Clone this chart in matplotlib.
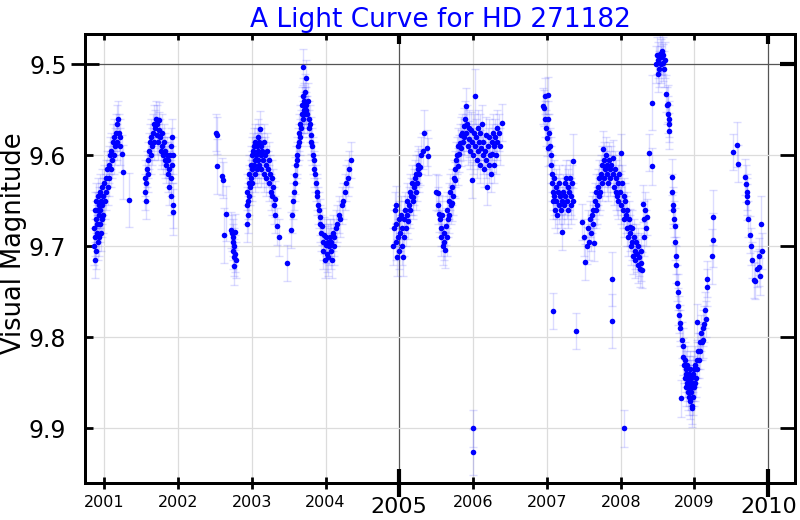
import matplotlib
matplotlib.use("Agg")
import matplotlib.pyplot as plt
from matplotlib.ticker import FixedLocator, FixedFormatter, NullFormatter

# (decimal year, visual magnitude, error) per observing season
season_2001 = [
    (2000.86, 9.700, 0.02), (2000.865, 9.680, 0.02), (2000.87, 9.660, 0.02), (2000.875, 9.715, 0.02),
    (2000.88, 9.690, 0.02), (2000.885, 9.670, 0.02), (2000.89, 9.650, 0.02), (2000.895, 9.705, 0.02),
    (2000.90, 9.685, 0.02), (2000.905, 9.660, 0.02), (2000.91, 9.675, 0.02), (2000.915, 9.695, 0.02),
    (2000.92, 9.645, 0.02), (2000.925, 9.665, 0.02), (2000.93, 9.690, 0.02), (2000.935, 9.655, 0.02),
    (2000.94, 9.675, 0.02), (2000.945, 9.640, 0.02), (2000.95, 9.660, 0.02), (2000.955, 9.685, 0.02),
    (2000.96, 9.650, 0.02), (2000.965, 9.670, 0.02), (2000.97, 9.635, 0.02), (2000.975, 9.655, 0.02),
    (2000.98, 9.645, 0.02), (2000.99, 9.665, 0.02), (2001.00, 9.630, 0.02), (2001.01, 9.650, 0.02),
    (2001.02, 9.625, 0.02), (2001.03, 9.640, 0.02), (2001.04, 9.615, 0.02), (2001.05, 9.635, 0.02),
    (2001.06, 9.610, 0.02), (2001.07, 9.625, 0.02), (2001.08, 9.600, 0.02), (2001.09, 9.615, 0.02),
    (2001.10, 9.595, 0.02), (2001.11, 9.605, 0.02), (2001.12, 9.585, 0.02), (2001.13, 9.600, 0.02),
    (2001.14, 9.580, 0.02), (2001.15, 9.590, 0.02), (2001.16, 9.575, 0.02), (2001.17, 9.585, 0.02),
    (2001.18, 9.565, 0.02), (2001.19, 9.560, 0.02), (2001.20, 9.575, 0.02), (2001.21, 9.590, 0.02),
    (2001.22, 9.580, 0.02), (2001.24, 9.598, 0.02), (2001.26, 9.618, 0.03), (2001.34, 9.649, 0.03),
]
season_2002 = [
    (2001.55, 9.640, 0.02), (2001.56, 9.625, 0.02), (2001.565, 9.650, 0.02), (2001.57, 9.630, 0.02),
    (2001.58, 9.615, 0.02), (2001.59, 9.605, 0.02), (2001.60, 9.620, 0.02), (2001.61, 9.595, 0.02),
    (2001.62, 9.585, 0.02), (2001.63, 9.600, 0.02), (2001.64, 9.580, 0.02), (2001.65, 9.590, 0.02),
    (2001.66, 9.575, 0.02), (2001.67, 9.565, 0.02), (2001.68, 9.585, 0.02), (2001.69, 9.570, 0.02),
    (2001.70, 9.560, 0.02), (2001.71, 9.578, 0.02), (2001.72, 9.565, 0.02), (2001.73, 9.585, 0.02),
    (2001.74, 9.572, 0.02), (2001.75, 9.561, 0.02), (2001.76, 9.580, 0.02), (2001.77, 9.595, 0.02),
    (2001.78, 9.575, 0.02), (2001.79, 9.590, 0.02), (2001.80, 9.600, 0.02), (2001.81, 9.585, 0.02),
    (2001.82, 9.605, 0.02), (2001.83, 9.595, 0.02), (2001.84, 9.610, 0.02), (2001.85, 9.600, 0.02),
    (2001.86, 9.620, 0.02), (2001.87, 9.605, 0.02), (2001.88, 9.615, 0.02), (2001.885, 9.635, 0.02),
    (2001.89, 9.600, 0.02), (2001.90, 9.625, 0.02), (2001.905, 9.645, 0.02), (2001.91, 9.590, 0.02),
    (2001.92, 9.610, 0.02), (2001.925, 9.580, 0.02), (2001.93, 9.655, 0.025), (2001.935, 9.662, 0.025),
    (2001.94, 9.600, 0.02),
]
season_2003 = [
    (2002.52, 9.575, 0.02), (2002.525, 9.578, 0.02), (2002.53, 9.612, 0.03), (2002.60, 9.623, 0.02),
    (2002.605, 9.627, 0.02), (2002.62, 9.688, 0.03), (2002.65, 9.664, 0.03), (2002.72, 9.682, 0.02),
    (2002.73, 9.685, 0.02), (2002.74, 9.695, 0.02), (2002.745, 9.705, 0.02), (2002.75, 9.690, 0.02),
    (2002.755, 9.712, 0.02), (2002.76, 9.700, 0.02), (2002.765, 9.722, 0.02), (2002.77, 9.708, 0.02),
    (2002.78, 9.684, 0.02), (2002.785, 9.715, 0.02),
    (2002.93, 9.655, 0.02), (2002.935, 9.675, 0.02), (2002.94, 9.640, 0.02), (2002.945, 9.665, 0.02),
    (2002.95, 9.650, 0.02), (2002.96, 9.630, 0.02), (2002.965, 9.645, 0.02), (2002.97, 9.620, 0.02),
    (2002.98, 9.635, 0.02), (2002.985, 9.610, 0.02), (2002.99, 9.625, 0.02), (2003.00, 9.600, 0.02),
    (2003.005, 9.615, 0.02), (2003.01, 9.630, 0.02), (2003.02, 9.595, 0.02), (2003.025, 9.610, 0.02),
    (2003.03, 9.590, 0.02), (2003.04, 9.605, 0.02), (2003.045, 9.620, 0.02), (2003.05, 9.585, 0.02),
    (2003.06, 9.600, 0.02), (2003.065, 9.615, 0.02), (2003.07, 9.590, 0.02), (2003.08, 9.605, 0.02),
    (2003.085, 9.580, 0.02), (2003.09, 9.595, 0.02), (2003.10, 9.610, 0.02), (2003.105, 9.585, 0.02),
    (2003.11, 9.571, 0.02), (2003.12, 9.600, 0.02), (2003.125, 9.590, 0.02), (2003.13, 9.615, 0.02),
    (2003.14, 9.595, 0.02), (2003.15, 9.605, 0.02), (2003.16, 9.585, 0.02), (2003.17, 9.620, 0.02),
    (2003.18, 9.600, 0.02), (2003.19, 9.610, 0.02), (2003.20, 9.625, 0.02), (2003.21, 9.595, 0.02),
    (2003.22, 9.615, 0.02), (2003.23, 9.630, 0.02), (2003.24, 9.605, 0.02), (2003.25, 9.620, 0.02),
    (2003.26, 9.640, 0.02), (2003.27, 9.625, 0.02), (2003.28, 9.645, 0.02), (2003.29, 9.635, 0.02),
    (2003.30, 9.655, 0.02), (2003.31, 9.648, 0.02), (2003.32, 9.665, 0.02), (2003.34, 9.678, 0.02),
    (2003.37, 9.690, 0.02),
]
season_2004 = [
    (2003.48, 9.718, 0.02), (2003.53, 9.682, 0.02), (2003.54, 9.665, 0.02), (2003.56, 9.650, 0.02),
    (2003.57, 9.640, 0.02), (2003.58, 9.630, 0.02), (2003.59, 9.622, 0.02), (2003.60, 9.610, 0.02),
    (2003.61, 9.600, 0.02), (2003.62, 9.605, 0.02), (2003.63, 9.590, 0.02), (2003.64, 9.585, 0.02),
    (2003.645, 9.575, 0.02), (2003.65, 9.580, 0.02), (2003.66, 9.565, 0.02), (2003.67, 9.570, 0.02),
    (2003.675, 9.555, 0.02), (2003.68, 9.545, 0.02), (2003.69, 9.503, 0.02), (2003.695, 9.560, 0.02),
    (2003.70, 9.535, 0.02), (2003.705, 9.550, 0.02), (2003.71, 9.540, 0.02), (2003.715, 9.555, 0.02),
    (2003.72, 9.545, 0.02), (2003.725, 9.530, 0.02), (2003.73, 9.550, 0.02), (2003.735, 9.515, 0.02),
    (2003.74, 9.545, 0.02), (2003.75, 9.555, 0.02), (2003.76, 9.540, 0.02), (2003.77, 9.560, 0.02),
    (2003.78, 9.570, 0.02), (2003.79, 9.565, 0.02), (2003.80, 9.578, 0.02), (2003.81, 9.585, 0.02),
    (2003.82, 9.590, 0.02), (2003.83, 9.600, 0.02), (2003.84, 9.605, 0.02), (2003.85, 9.615, 0.02),
    (2003.86, 9.620, 0.02), (2003.87, 9.630, 0.02), (2003.88, 9.640, 0.02), (2003.89, 9.645, 0.02),
    (2003.90, 9.655, 0.02), (2003.91, 9.660, 0.02), (2003.92, 9.668, 0.02), (2003.93, 9.675, 0.02),
    (2003.94, 9.685, 0.02), (2003.95, 9.678, 0.02), (2003.96, 9.695, 0.02), (2003.97, 9.705, 0.02),
    (2003.98, 9.688, 0.02), (2003.99, 9.715, 0.02), (2004.00, 9.698, 0.02), (2004.01, 9.690, 0.02),
    (2004.02, 9.708, 0.02), (2004.03, 9.695, 0.02), (2004.04, 9.712, 0.02), (2004.05, 9.700, 0.02),
    (2004.06, 9.690, 0.02), (2004.07, 9.705, 0.02), (2004.08, 9.695, 0.02), (2004.09, 9.715, 0.02),
    (2004.10, 9.685, 0.02), (2004.11, 9.700, 0.02), (2004.12, 9.690, 0.02), (2004.14, 9.680, 0.02),
    (2004.16, 9.675, 0.02), (2004.18, 9.665, 0.02), (2004.20, 9.670, 0.02), (2004.22, 9.655, 0.02),
    (2004.24, 9.650, 0.02), (2004.26, 9.640, 0.02), (2004.28, 9.630, 0.02), (2004.30, 9.625, 0.02),
    (2004.32, 9.615, 0.02), (2004.34, 9.605, 0.02),
]
season_2005 = [
    (2004.92, 9.700, 0.02), (2004.93, 9.680, 0.02), (2004.94, 9.660, 0.02), (2004.95, 9.654, 0.02),
    (2004.955, 9.695, 0.02), (2004.96, 9.675, 0.02), (2004.97, 9.712, 0.02), (2004.98, 9.690, 0.02),
    (2004.99, 9.670, 0.02), (2005.00, 9.705, 0.02), (2005.01, 9.685, 0.02), (2005.02, 9.665, 0.02),
    (2005.03, 9.700, 0.02), (2005.04, 9.680, 0.02), (2005.05, 9.712, 0.02), (2005.06, 9.690, 0.02),
    (2005.07, 9.670, 0.02), (2005.08, 9.660, 0.02), (2005.09, 9.680, 0.02), (2005.10, 9.665, 0.02),
    (2005.11, 9.650, 0.02), (2005.12, 9.672, 0.02), (2005.13, 9.655, 0.02), (2005.14, 9.640, 0.02),
    (2005.15, 9.660, 0.02), (2005.16, 9.645, 0.02), (2005.17, 9.630, 0.02), (2005.18, 9.650, 0.02),
    (2005.19, 9.646, 0.02), (2005.20, 9.635, 0.02), (2005.21, 9.625, 0.02), (2005.22, 9.640, 0.02),
    (2005.23, 9.620, 0.02), (2005.24, 9.630, 0.02), (2005.25, 9.615, 0.02), (2005.26, 9.610, 0.02),
    (2005.27, 9.620, 0.02), (2005.28, 9.613, 0.02), (2005.30, 9.600, 0.02), (2005.32, 9.595, 0.02),
    (2005.34, 9.575, 0.025), (2005.37, 9.592, 0.02), (2005.39, 9.601, 0.02),
]
season_2006 = [
    (2005.50, 9.640, 0.02), (2005.52, 9.655, 0.02), (2005.53, 9.641, 0.02), (2005.54, 9.664, 0.02),
    (2005.55, 9.670, 0.02), (2005.56, 9.680, 0.02), (2005.57, 9.690, 0.02), (2005.58, 9.665, 0.02),
    (2005.59, 9.700, 0.02), (2005.60, 9.685, 0.02), (2005.61, 9.695, 0.02), (2005.62, 9.704, 0.02),
    (2005.63, 9.678, 0.02), (2005.64, 9.660, 0.02), (2005.65, 9.690, 0.02), (2005.66, 9.670, 0.02),
    (2005.67, 9.650, 0.02), (2005.68, 9.665, 0.02), (2005.69, 9.640, 0.02), (2005.70, 9.655, 0.02),
    (2005.71, 9.652, 0.02), (2005.72, 9.635, 0.02), (2005.73, 9.645, 0.02), (2005.74, 9.625, 0.02),
    (2005.75, 9.615, 0.02), (2005.76, 9.627, 0.02), (2005.77, 9.605, 0.02), (2005.78, 9.600, 0.02),
    (2005.79, 9.612, 0.02), (2005.80, 9.590, 0.02), (2005.81, 9.598, 0.02), (2005.82, 9.586, 0.02),
    (2005.83, 9.578, 0.02), (2005.84, 9.592, 0.02), (2005.85, 9.575, 0.02), (2005.86, 9.585, 0.02),
    (2005.87, 9.568, 0.02), (2005.88, 9.580, 0.02), (2005.89, 9.560, 0.02), (2005.90, 9.546, 0.02),
    (2005.91, 9.575, 0.02), (2005.92, 9.565, 0.02), (2005.93, 9.590, 0.02), (2005.94, 9.570, 0.02),
    (2005.95, 9.582, 0.02), (2005.96, 9.595, 0.02), (2005.97, 9.572, 0.02), (2005.98, 9.627, 0.02),
    (2005.99, 9.585, 0.02), (2006.00, 9.600, 0.02), (2006.01, 9.575, 0.02), (2006.02, 9.535, 0.03),
    (2006.03, 9.590, 0.02), (2006.04, 9.580, 0.02), (2006.05, 9.605, 0.02), (2006.06, 9.570, 0.02),
    (2006.07, 9.595, 0.02), (2006.08, 9.585, 0.02), (2006.09, 9.610, 0.02), (2006.10, 9.575, 0.02),
    (2006.11, 9.592, 0.02), (2006.12, 9.565, 0.02), (2006.13, 9.600, 0.02), (2006.14, 9.585, 0.02),
    (2006.15, 9.615, 0.02), (2006.16, 9.595, 0.02), (2006.17, 9.578, 0.02), (2006.18, 9.605, 0.02),
    (2006.19, 9.635, 0.02), (2006.20, 9.590, 0.02), (2006.21, 9.610, 0.02), (2006.22, 9.580, 0.02),
    (2006.23, 9.600, 0.02), (2006.24, 9.620, 0.02), (2006.25, 9.585, 0.02), (2006.26, 9.598, 0.02),
    (2006.27, 9.575, 0.02), (2006.28, 9.610, 0.02), (2006.29, 9.590, 0.02), (2006.30, 9.580, 0.02),
    (2006.31, 9.600, 0.02), (2006.32, 9.570, 0.02), (2006.33, 9.585, 0.02), (2006.35, 9.575, 0.02),
    (2006.37, 9.590, 0.02), (2006.39, 9.564, 0.02), (2006.00, 9.900, 0.02), (2006.005, 9.926, 0.025),
]
season_2007 = [
    (2006.95, 9.546, 0.02), (2006.96, 9.548, 0.02), (2006.97, 9.560, 0.02), (2006.98, 9.535, 0.02),
    (2006.99, 9.570, 0.02), (2007.00, 9.581, 0.02), (2007.01, 9.534, 0.02), (2007.015, 9.592, 0.02),
    (2007.02, 9.560, 0.02), (2007.03, 9.575, 0.02), (2007.04, 9.590, 0.02), (2007.05, 9.600, 0.02),
    (2007.06, 9.610, 0.02), (2007.07, 9.620, 0.02), (2007.075, 9.630, 0.02), (2007.08, 9.640, 0.02),
    (2007.085, 9.650, 0.02), (2007.09, 9.625, 0.02), (2007.10, 9.645, 0.02), (2007.11, 9.660, 0.02),
    (2007.12, 9.635, 0.02), (2007.13, 9.650, 0.02), (2007.14, 9.665, 0.02), (2007.15, 9.640, 0.02),
    (2007.16, 9.655, 0.02), (2007.17, 9.630, 0.02), (2007.18, 9.645, 0.02), (2007.19, 9.660, 0.02),
    (2007.20, 9.684, 0.02), (2007.21, 9.650, 0.02), (2007.22, 9.640, 0.02), (2007.23, 9.655, 0.02),
    (2007.24, 9.630, 0.02), (2007.25, 9.645, 0.02), (2007.26, 9.625, 0.02), (2007.27, 9.650, 0.02),
    (2007.28, 9.635, 0.02), (2007.29, 9.660, 0.02), (2007.30, 9.640, 0.02), (2007.31, 9.625, 0.02),
    (2007.32, 9.645, 0.02), (2007.33, 9.655, 0.02), (2007.34, 9.630, 0.02), (2007.35, 9.606, 0.03),
    (2007.36, 9.650, 0.02), (2007.08, 9.771, 0.02), (2007.40, 9.793, 0.02),
]
season_2008 = [
    (2007.48, 9.673, 0.02), (2007.50, 9.690, 0.02), (2007.52, 9.717, 0.02), (2007.54, 9.699, 0.02),
    (2007.56, 9.680, 0.02), (2007.57, 9.695, 0.02), (2007.58, 9.670, 0.02), (2007.60, 9.685, 0.02),
    (2007.61, 9.665, 0.02), (2007.62, 9.675, 0.02), (2007.63, 9.660, 0.02), (2007.64, 9.696, 0.02),
    (2007.65, 9.650, 0.02), (2007.66, 9.660, 0.02), (2007.67, 9.640, 0.02), (2007.68, 9.655, 0.02),
    (2007.69, 9.635, 0.02), (2007.70, 9.645, 0.02), (2007.71, 9.625, 0.02), (2007.72, 9.640, 0.02),
    (2007.73, 9.620, 0.02), (2007.74, 9.630, 0.02), (2007.75, 9.610, 0.02), (2007.76, 9.593, 0.02),
    (2007.77, 9.625, 0.02), (2007.78, 9.605, 0.02), (2007.79, 9.615, 0.02), (2007.80, 9.600, 0.02),
    (2007.81, 9.620, 0.02), (2007.82, 9.610, 0.02), (2007.83, 9.630, 0.02), (2007.84, 9.605, 0.02),
    (2007.85, 9.615, 0.02), (2007.86, 9.625, 0.02), (2007.87, 9.610, 0.02), (2007.88, 9.736, 0.03),
    (2007.885, 9.782, 0.03), (2007.89, 9.603, 0.02), (2007.90, 9.620, 0.02), (2007.91, 9.635, 0.02),
    (2007.92, 9.615, 0.02), (2007.93, 9.640, 0.02), (2007.94, 9.625, 0.02), (2007.95, 9.645, 0.02),
    (2007.96, 9.630, 0.02), (2007.97, 9.650, 0.02), (2007.98, 9.620, 0.02), (2007.99, 9.640, 0.02),
    (2008.00, 9.597, 0.02), (2008.01, 9.655, 0.02), (2008.02, 9.630, 0.02), (2008.03, 9.660, 0.02),
    (2008.04, 9.645, 0.02), (2008.05, 9.670, 0.02), (2008.06, 9.650, 0.02), (2008.07, 9.665, 0.02),
    (2008.08, 9.680, 0.02), (2008.09, 9.660, 0.02), (2008.10, 9.690, 0.02), (2008.11, 9.670, 0.02),
    (2008.12, 9.685, 0.02), (2008.13, 9.679, 0.02), (2008.14, 9.700, 0.02), (2008.15, 9.680, 0.02),
    (2008.16, 9.695, 0.02), (2008.17, 9.710, 0.02), (2008.18, 9.690, 0.02), (2008.19, 9.705, 0.02),
    (2008.20, 9.715, 0.02), (2008.21, 9.695, 0.02), (2008.22, 9.708, 0.02), (2008.23, 9.720, 0.02),
    (2008.24, 9.700, 0.02), (2008.25, 9.712, 0.02), (2008.26, 9.725, 0.02), (2008.27, 9.705, 0.02),
    (2008.28, 9.718, 0.02), (2008.29, 9.726, 0.02), (2008.30, 9.653, 0.02), (2008.31, 9.690, 0.02),
    (2008.32, 9.670, 0.02), (2008.33, 9.660, 0.02), (2008.34, 9.680, 0.02), (2008.35, 9.668, 0.02),
    (2008.04, 9.900, 0.02),
]
season_2009 = [
    (2008.39, 9.597, 0.02), (2008.42, 9.612, 0.02), (2008.43, 9.542, 0.03), (2008.48, 9.500, 0.02),
    (2008.49, 9.490, 0.02), (2008.50, 9.510, 0.02), (2008.51, 9.495, 0.02), (2008.52, 9.505, 0.02),
    (2008.53, 9.488, 0.02), (2008.54, 9.500, 0.02), (2008.55, 9.492, 0.02), (2008.56, 9.485, 0.02),
    (2008.57, 9.498, 0.02), (2008.58, 9.490, 0.02), (2008.59, 9.505, 0.02), (2008.60, 9.495, 0.02),
    (2008.62, 9.532, 0.02), (2008.63, 9.545, 0.02), (2008.64, 9.543, 0.02), (2008.645, 9.555, 0.02),
    (2008.65, 9.565, 0.02), (2008.655, 9.560, 0.02), (2008.66, 9.573, 0.02),
    (2008.69, 9.624, 0.02), (2008.70, 9.640, 0.02), (2008.71, 9.655, 0.02), (2008.715, 9.660, 0.02),
    (2008.72, 9.670, 0.02), (2008.73, 9.678, 0.02), (2008.74, 9.695, 0.02), (2008.75, 9.710, 0.02),
    (2008.755, 9.720, 0.02), (2008.76, 9.740, 0.02), (2008.77, 9.750, 0.02), (2008.78, 9.766, 0.02),
    (2008.79, 9.775, 0.02), (2008.80, 9.784, 0.02), (2008.81, 9.790, 0.02), (2008.82, 9.867, 0.02),
    (2008.83, 9.803, 0.02), (2008.84, 9.810, 0.02), (2008.85, 9.821, 0.02), (2008.86, 9.830, 0.02),
    (2008.87, 9.825, 0.02), (2008.875, 9.845, 0.02), (2008.88, 9.835, 0.02), (2008.885, 9.855, 0.02),
    (2008.89, 9.840, 0.02), (2008.90, 9.850, 0.02), (2008.905, 9.830, 0.02), (2008.91, 9.860, 0.02),
    (2008.915, 9.845, 0.02), (2008.92, 9.865, 0.02), (2008.925, 9.840, 0.02), (2008.93, 9.855, 0.02),
    (2008.935, 9.870, 0.02), (2008.94, 9.850, 0.02), (2008.945, 9.835, 0.02), (2008.95, 9.860, 0.02),
    (2008.955, 9.845, 0.02), (2008.96, 9.875, 0.02), (2008.965, 9.855, 0.02), (2008.97, 9.878, 0.02),
    (2008.975, 9.850, 0.02), (2008.98, 9.865, 0.02), (2008.985, 9.840, 0.02), (2008.99, 9.855, 0.02),
    (2009.00, 9.835, 0.02), (2009.005, 9.850, 0.02), (2009.01, 9.830, 0.02), (2009.02, 9.845, 0.02),
    (2009.03, 9.783, 0.02), (2009.035, 9.825, 0.02), (2009.04, 9.835, 0.02), (2009.05, 9.815, 0.02),
    (2009.06, 9.825, 0.02), (2009.07, 9.805, 0.02), (2009.08, 9.815, 0.02), (2009.09, 9.795, 0.02),
    (2009.10, 9.805, 0.02), (2009.11, 9.790, 0.02), (2009.12, 9.803, 0.02), (2009.13, 9.785, 0.02),
    (2009.14, 9.770, 0.02), (2009.15, 9.780, 0.02), (2009.17, 9.745, 0.02), (2009.175, 9.736, 0.02),
    (2009.24, 9.711, 0.03), (2009.245, 9.693, 0.03), (2009.25, 9.668, 0.03),
]
season_2010 = [
    (2009.52, 9.596, 0.02), (2009.57, 9.588, 0.025), (2009.59, 9.609, 0.02), (2009.69, 9.624, 0.02),
    (2009.70, 9.631, 0.02), (2009.705, 9.640, 0.02), (2009.71, 9.651, 0.02), (2009.715, 9.645, 0.02),
    (2009.73, 9.670, 0.02), (2009.75, 9.687, 0.02), (2009.76, 9.700, 0.02), (2009.78, 9.715, 0.02),
    (2009.80, 9.737, 0.02), (2009.82, 9.738, 0.02), (2009.85, 9.725, 0.02), (2009.87, 9.711, 0.02),
    (2009.88, 9.723, 0.02), (2009.89, 9.733, 0.02), (2009.90, 9.675, 0.03), (2009.91, 9.705, 0.02),
]

year_major = [2005, 2010]
year_minor = [2001, 2002, 2003, 2004, 2006, 2007, 2008, 2009]
mag_major = [9.5]
mag_minor = [9.6, 9.7, 9.8, 9.9]

seasons = [season_2001, season_2002, season_2003, season_2004, season_2005,
           season_2006, season_2007, season_2008, season_2009, season_2010]
t = [p[0] for s in seasons for p in s]
m = [p[1] for s in seasons for p in s]
e = [p[2] for s in seasons for p in s]

XLIM = (2000.741, 2010.362)
YLIM = (9.960, 9.4665)

fig = plt.figure(figsize=(8, 5.2), dpi=100)
ax = fig.add_axes([0.10625, 0.0712, 0.8875, 0.8635])

ax.errorbar(t, m, yerr=e, fmt='none', ecolor=(0.25, 0.25, 1.0, 0.18),
            elinewidth=1.0, capsize=3, capthick=1.0, zorder=2)
ax.plot(t, m, 'o', color='#0000ff', ms=4, mec='none', zorder=3)

ax.set_xlim(*XLIM)
ax.set_ylim(*YLIM)

ax.xaxis.set_major_locator(FixedLocator(year_major))
ax.xaxis.set_major_formatter(FixedFormatter([str(y) for y in year_major]))
ax.xaxis.set_minor_locator(FixedLocator(year_minor))
ax.xaxis.set_minor_formatter(FixedFormatter([str(y) for y in year_minor]))
ax.yaxis.set_major_locator(FixedLocator(mag_major))
ax.yaxis.set_major_formatter(FixedFormatter([f"{v:.1f}" for v in mag_major]))
ax.yaxis.set_minor_locator(FixedLocator(mag_minor))
ax.yaxis.set_minor_formatter(FixedFormatter([f"{v:.1f}" for v in mag_minor]))

ax.tick_params(axis='x', which='major', direction='inout', length=20, width=3,
               labelsize=16, pad=0)
ax.tick_params(axis='x', which='minor', direction='inout', length=9, width=2,
               labelsize=11.5, pad=4)
ax.tick_params(axis='y', which='major', direction='inout', length=20, width=2,
               labelsize=17, pad=3)
ax.tick_params(axis='y', which='minor', direction='in', length=6, width=2,
               labelsize=17, pad=14)

ax.grid(True, which='minor', color='#dcdcdc', lw=0.9)
ax.grid(True, which='major', color='#555555', lw=0.9)
ax.set_axisbelow(True)

for sp in ax.spines.values():
    sp.set_linewidth(2.0)

# inward ticks on the top and right edges
tx = ax.twiny()
tx.set_xlim(*XLIM)
tx.xaxis.set_major_locator(FixedLocator(year_major))
tx.xaxis.set_minor_locator(FixedLocator(year_minor))
tx.xaxis.set_major_formatter(NullFormatter())
tx.xaxis.set_minor_formatter(NullFormatter())
tx.tick_params(axis='x', which='major', direction='in', length=7, width=3)
tx.tick_params(axis='x', which='minor', direction='in', length=4, width=2)
tx.tick_params(axis='y', left=False, right=False, labelleft=False, labelright=False)

ty = ax.twinx()
ty.set_ylim(*YLIM)
ty.yaxis.set_major_locator(FixedLocator(mag_major))
ty.yaxis.set_minor_locator(FixedLocator(mag_minor))
ty.yaxis.set_major_formatter(NullFormatter())
ty.yaxis.set_minor_formatter(NullFormatter())
ty.tick_params(axis='y', which='major', direction='in', length=11, width=3)
ty.tick_params(axis='y', which='minor', direction='in', length=11, width=2)
ty.tick_params(axis='x', top=False, bottom=False, labeltop=False, labelbottom=False)
for tw in (tx, ty):
    for sp in tw.spines.values():
        sp.set_linewidth(2.0)

ax.set_ylabel('Visual Magnitude', fontsize=18.5)
ax.yaxis.set_label_coords(-0.081, 0.535)
ax.set_title('A Light Curve for HD 271182', color='#0000ff', fontsize=19, pad=5)

fig.savefig('out.png', dpi=100)
